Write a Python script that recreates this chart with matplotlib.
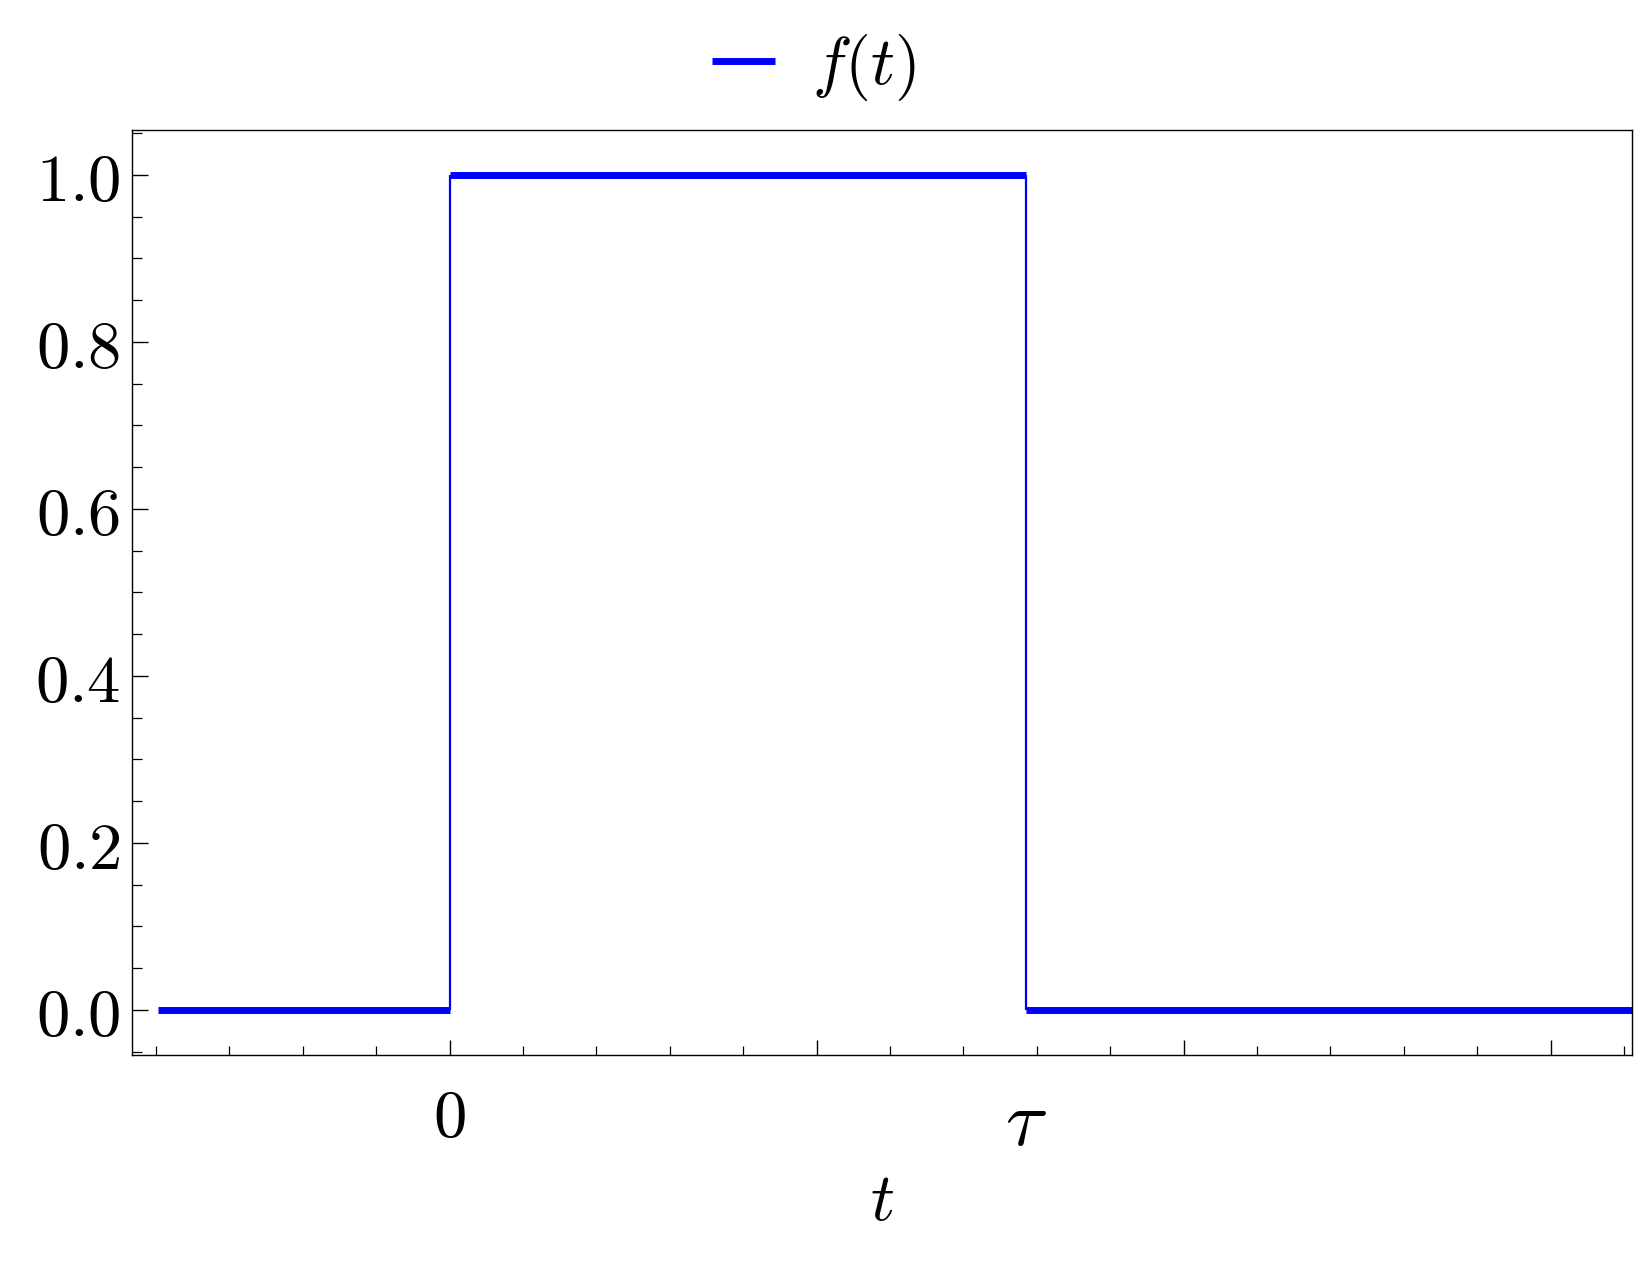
import matplotlib
matplotlib.use("Agg")
import matplotlib.pyplot as plt
import numpy as np

plt.rcParams['mathtext.fontset'] = 'cm'
plt.rcParams['font.family'] = 'serif'
plt.rcParams['font.serif'] = ['DejaVu Serif']

# pulse data: f(t) = 1 for 0 <= t <= tau, else 0
tau = np.pi
t_low_left = [-1.59, 0.0]
f_low_left = [0.0, 0.0]
t_high = [0.0, tau]
f_high = [1.0, 1.0]
t_low_right = [tau, 6.5]
f_low_right = [0.0, 0.0]
t_edges = [0.0, tau]
edge_bottom = [0.0, 0.0]
edge_top = [1.0, 1.0]

xtick_pos = [0.0, tau]
xtick_lbl = [r'$0$', r'$\tau$']
ytick_pos = [0.0, 0.2, 0.4, 0.6, 0.8, 1.0]
ytick_lbl = [r'$%.1f$' % v for v in ytick_pos]

blue = (0, 0, 1)
fs = 48

fig = plt.figure(figsize=(16.51, 12.66), dpi=100)
ax = fig.add_axes([0.0797, 0.1667, 0.9885 - 0.0797, 0.8977 - 0.1667])

# thin vertical edges
for te, b, tp in zip(t_edges, edge_bottom, edge_top):
    ax.plot([te, te], [b, tp], color=blue, lw=1.6, solid_capstyle='butt')

ax.plot(t_low_left, f_low_left, color=blue, lw=5, solid_capstyle='butt', label=r'$f(t)$')
ax.plot(t_high, f_high, color=blue, lw=5, solid_capstyle='butt')
ax.plot(t_low_right, f_low_right, color=blue, lw=5, solid_capstyle='butt')

ax.set_xlim(-1.733, 6.444)
ax.set_ylim(-0.054, 1.0545)

# labels at 0 and tau, no marks
ax.set_xticks(xtick_pos, xtick_lbl, fontsize=fs)
ax.tick_params(axis='x', length=0, pad=22)
ax.get_xticklabels()[1].set_fontsize(56)

# tick marks on a secondary bottom axis
sec = ax.secondary_xaxis('bottom')
sec.set_xticks([0, 2, 4, 6])
sec.set_xticks(np.arange(-1.6, 6.5, 0.4), minor=True)
sec.tick_params(which='major', direction='in', length=10.8, width=1, labelbottom=False)
sec.tick_params(which='minor', direction='in', length=6.5, width=0.9)
sec.spines['bottom'].set_visible(False)

ax.set_yticks(ytick_pos, ytick_lbl, fontsize=fs)
ax.set_yticks(np.arange(-0.05, 1.06, 0.05), minor=True)
ax.tick_params(axis='y', which='major', direction='in', length=11.3, width=1, pad=8)
ax.tick_params(axis='y', which='minor', direction='in', length=7, width=0.9)

for s in ax.spines.values():
    s.set_linewidth(1.0)

ax.set_xlabel(r'$t$', fontsize=fs, labelpad=5)

fig.legend(loc='upper center', bbox_to_anchor=(0.493, 1.022), frameon=False,
           fontsize=fs, handlelength=0.95, handletextpad=0.55)

fig.savefig('out.png', dpi=100)
